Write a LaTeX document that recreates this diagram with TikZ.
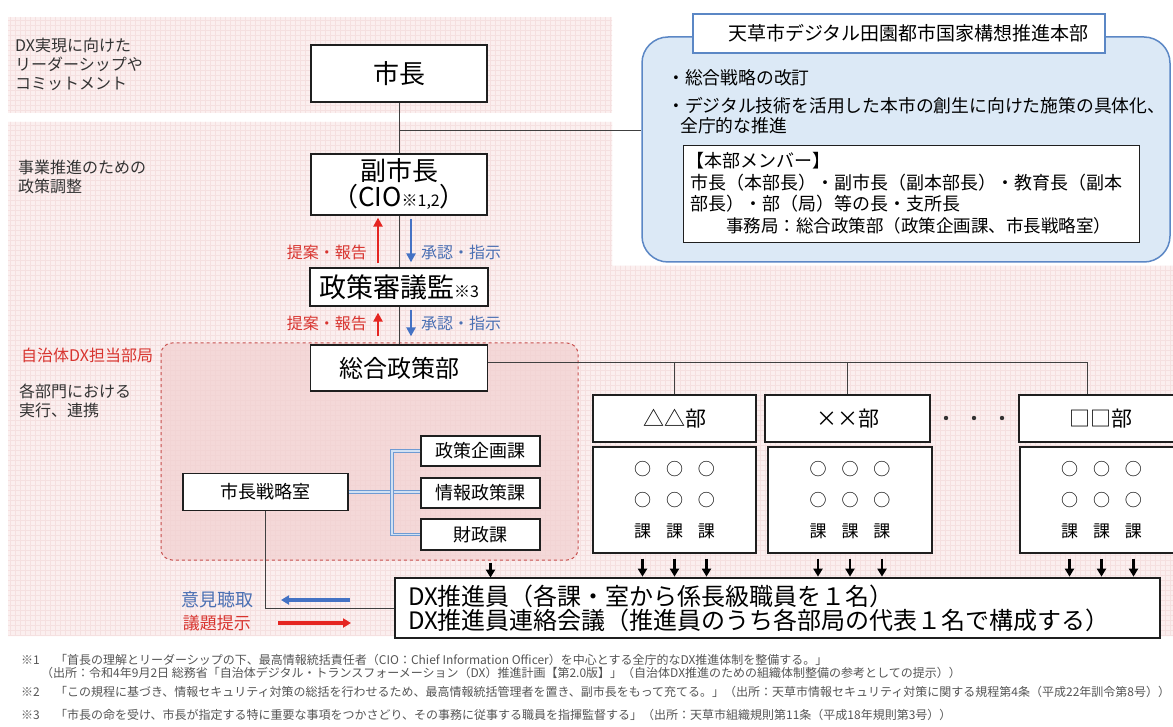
\documentclass[tikz,border=0pt]{standalone}
\usepackage{fontspec}
\setmainfont{Noto Sans CJK JP}
\usetikzlibrary{arrows.meta,calc}
\definecolor{bandpink}{HTML}{FBEFEF}
\definecolor{gridpink}{HTML}{F5E0E0}
\definecolor{dashfill}{HTML}{F2CFCF}
\definecolor{dashred}{HTML}{C8504E}
\definecolor{bluefill}{HTML}{DCE9F6}
\definecolor{blueline}{HTML}{5B87C5}
\definecolor{arrred}{HTML}{E52521}
\definecolor{arrblue}{HTML}{4472C4}
\definecolor{txtred}{HTML}{D8342F}
\definecolor{txtblue}{HTML}{4A6FB3}
\definecolor{connblue}{HTML}{6F9BD3}
\definecolor{connlight}{HTML}{D2E1F3}
\definecolor{fngray}{HTML}{555555}
\newcommand\myfs[2]{\fontsize{#1}{#2}\selectfont}
\newcommand\kagrid[1]{#1\hspace{15pt}#1\hspace{15pt}#1}
\begin{document}
\begin{tikzpicture}[x=1pt,y=-1pt,
  box/.style={draw=black!88, line width=1.3pt, fill=white, inner sep=0pt, align=center},
  txt/.style={inner sep=0pt, anchor=west, align=left},
  conn/.style={draw=black!75, line width=0.9pt},
  dbl/.style={draw=connblue, line width=0.8pt, double=connlight, double distance=1.6pt},
  redup/.style={draw=arrred, line width=2.6pt, -{Triangle[length=9pt,width=9pt]}},
  bluedown/.style={draw=arrblue, line width=2.6pt, -{Triangle[length=9pt,width=9pt]}},
  darr/.style={draw=black, line width=2.2pt, -{Triangle[length=8pt,width=9pt]}},
  fn/.style={txt, text=fngray, font=\myfs{12}{12}},
  lab/.style={txt, text=black!80, font=\myfs{16}{19}},
]
\useasboundingbox (0,0) rectangle (1173,727);
\fill[white] (0,0) rectangle (1173,727);
% background bands
\fill[bandpink] (8,17) rectangle (612,113);
\fill[bandpink] (8,122) -- (612,122) -- (612,266) -- (1173,266) -- (1173,636) -- (8,636) -- cycle;
\begin{scope}
\clip (8,17) rectangle (612,113) (8,122) -- (612,122) -- (612,266) -- (1173,266) -- (1173,636) -- (8,636) -- cycle;
\foreach \gx in {10,15,...,1170} \draw[gridpink, line width=0.3pt] (\gx,17) -- (\gx,636);
\foreach \gy in {20,25,...,635} \draw[gridpink, line width=0.3pt] (8,\gy) -- (1173,\gy);
\end{scope}
% dashed department area
\draw[dashred, dashed, line width=1pt, fill=dashfill, fill opacity=.7, rounded corners=11pt] (161,343) rectangle (578,560);

% left labels
\node[lab] (l1) at (15,64) {DX実現に向けた\\リーダーシップや\\コミットメント};
\node[lab] (l2) at (18,177) {事業推進のための\\政策調整};
\node[txt, text=txtred, font=\myfs{16}{16}] (l3) at (21,355) {自治体DX担当部局};
\node[lab] (l4) at (19,401) {各部門における\\実行、連携};

% headquarters box
\node[draw=blueline, line width=1.5pt, fill=bluefill, rounded corners=26pt, minimum width=528, minimum height=225, inner sep=0pt] (hq) at (906,149.5) {};
\node[draw=blueline, line width=2pt, fill=white, minimum width=412, minimum height=39, inner sep=0pt] (title) at (899,33.5) {};
\node[txt, font=\myfs{19}{19}] (titletxt) at (728,33.5) {天草市デジタル田園都市国家構想推進本部};
\node[txt, font=\myfs{17.8}{20}] (b1) at (667,78) {・総合戦略の改訂};
\node[txt, font=\myfs{17.8}{20}] (b2) at (667,106) {・デジタル技術を活用した本市の創生に向けた施策の具体化、};
\node[txt, font=\myfs{17.8}{20}] (b3) at (680,126) {全庁的な推進};
\node[box, line width=1pt, minimum width=456, minimum height=97] (member) at (911,194.5) {};
\node[txt, font=\myfs{18}{18}] (m1) at (686,161) {【本部メンバー】};
\node[txt, font=\myfs{18}{18}] (m2) at (690,183) {市長（本部長）・副市長（副本部長）・教育長（副本};
\node[txt, font=\myfs{18}{18}] (m3) at (690,204) {部長）・部（局）等の長・支所長};
\node[txt, font=\myfs{17.5}{18}] (m4) at (726,226) {事務局：総合政策部（政策企画課、市長戦略室）};

% main column
\node[box, minimum width=176, minimum height=57, font=\myfs{26}{26}] (shicho) at (399,73.5) {市長};
\node[box, minimum width=176, minimum height=61, font=\myfs{26}{26}] (fuku) at (399,184.5) {副市長\\（CIO{\myfs{16}{16}※1,2}）};
\node[box, minimum width=178, minimum height=38, font=\myfs{27}{27}] (seisaku) at (399,287) {政策審議監{\myfs{16}{16}※3}};
\node[box, minimum width=177, minimum height=46, font=\myfs{24}{24}] (sogo) at (399,368) {総合政策部};
\draw[conn] (shicho.south) -- (fuku.north);
\draw[conn] (fuku.south) -- (seisaku.north);
\draw[conn] (seisaku.south) -- (sogo.north);
\coordinate (j1) at (399,130);
\draw[conn] (j1) -- (hq.west |- j1);

% proposal / approval arrows
\draw[redup] ($(seisaku.north)+(-21,-4)$) -- ($(fuku.south)+(-21,2)$);
\draw[bluedown] ($(fuku.south)+(12,3)$) -- ($(seisaku.north)+(12,-5)$);
\draw[redup] ($(sogo.north)+(-21,-8)$) -- ($(seisaku.south)+(-21,6)$);
\draw[bluedown] ($(seisaku.south)+(12,3)$) -- ($(sogo.north)+(12,-8)$);
\node[txt, anchor=east, text=txtred, font=\myfs{16}{16}] (tk1) at (367,252) {提案・報告};
\node[txt, text=txtblue, font=\myfs{16}{16}] (sn1) at (421,252) {承認・指示};
\node[txt, anchor=east, text=txtred, font=\myfs{16}{16}] (tk2) at (367,323) {提案・報告};
\node[txt, text=txtblue, font=\myfs{16}{16}] (sn2) at (421,323) {承認・指示};

% departments
\node[box, minimum width=163, minimum height=47, font=\myfs{21}{21}] (bu1) at (674.5,418.5) {△△部};
\node[box, minimum width=165, minimum height=47, font=\myfs{21}{21}] (bu2) at (847.5,418.5) {××部};
\node[box, minimum width=164, minimum height=47, font=\myfs{21}{21}] (bu3) at (1101,418.5) {□□部};
\coordinate (d3) at (1087,362);
\draw[conn] (sogo.east |- d3) -- (d3) -- (d3 |- bu3.north);
\draw[conn] (bu1.north |- d3) -- (bu1.north);
\draw[conn] (bu2.north |- d3) -- (bu2.north);
\fill[black!80] (946,418) circle[radius=2.2pt] (974,418) circle[radius=2.2pt] (1002,418) circle[radius=2.2pt];
\node[box, minimum width=163, minimum height=106, font=\myfs{17}{31}] (ka1) at (674.5,500) {\kagrid{○}\\\kagrid{○}\\\kagrid{課}};
\node[box, minimum width=164, minimum height=106, font=\myfs{17}{31}] (ka2) at (850,500) {\kagrid{○}\\\kagrid{○}\\\kagrid{課}};
\node[box, minimum width=163, minimum height=106, font=\myfs{17}{31}] (ka3) at (1101.5,500) {\kagrid{○}\\\kagrid{○}\\\kagrid{課}};

% policy department sections
\node[box, line width=1.2pt, minimum width=165, minimum height=37, font=\myfs{18}{18}] (ssr) at (265.5,492) {市長戦略室};
\node[box, line width=1.2pt, minimum width=119, minimum height=30, font=\myfs{18}{18}] (kikaku) at (480.5,451) {政策企画課};
\node[box, line width=1.2pt, minimum width=119, minimum height=30, font=\myfs{18}{18}] (johou) at (480.5,493) {情報政策課};
\node[box, line width=1.2pt, minimum width=119, minimum height=31, font=\myfs{18}{18}] (zaisei) at (480.5,534.5) {財政課};
\coordinate (bar) at (392,493);
\draw[dbl] (ssr.east) -- (ssr.east -| johou.west);
\draw[dbl] (kikaku.west) -| (bar) |- (zaisei.west);

% DX promoters
\node[box, line width=1.4pt, minimum width=765, minimum height=60, text width=739, inner xsep=13pt, align=left, font=\myfs{24}{24}] (dx) at (777.5,608) {DX推進員（各課・室から係長級職員を１名）\\DX推進員連絡会議（推進員のうち各部局の代表１名で構成する）};
\foreach \k in {ka1,ka2,ka3} \foreach \o in {-32,0,32} \draw[darr] ($(\k.south)+(\o,5)$) -- ($(\k.south)+(\o,23)$);
\draw[darr] ($(zaisei.south)+(10,12)$) -- ($(zaisei.south)+(10,27)$);
\draw[conn] (ssr.south) |- (dx.west);
\node[txt, anchor=east, text=txtblue, font=\myfs{18}{18}] (iken) at (254,600) {意見聴取};
\node[txt, anchor=east, text=txtred, font=\myfs{17}{17}] (gidai) at (251,623) {議題提示};
\draw[draw=arrblue, line width=3.2pt, -{Triangle[length=8pt,width=9pt]}] ($(iken.east)+(96,0)$) -- ($(iken.east)+(27,0)$);
\draw[draw=arrred, line width=3.2pt, -{Triangle[length=8pt,width=9pt]}] ($(gidai.east)+(27,0)$) -- ($(gidai.east)+(100,0)$);

% footnotes
\node[fn] (f1m) at (21,660) {※1};
\node[fn] (f1a) at (55,660) {「首長の理解とリーダーシップの下、最高情報統括責任者（CIO：Chief Information Officer）を中心とする全庁的なDX推進体制を整備する。」};
\node[fn] (f1b) at (41,673) {（出所：令和4年9月2日 総務省「自治体デジタル・トランスフォーメーション（DX）推進計画【第2.0版】」（自治体DX推進のための組織体制整備の参考としての提示））};
\node[fn] (f2m) at (21,692) {※2};
\node[fn] (f2a) at (55,692) {「この規程に基づき、情報セキュリティ対策の総括を行わせるため、最高情報統括管理者を置き、副市長をもって充てる。」（出所：天草市情報セキュリティ対策に関する規程第4条（平成22年訓令第8号））};
\node[fn] (f3m) at (21,715) {※3};
\node[fn] (f3a) at (55,715) {「市長の命を受け、市長が指定する特に重要な事項をつかさどり、その事務に従事する職員を指揮監督する」（出所：天草市組織規則第11条（平成18年規則第3号））};
\end{tikzpicture}
\end{document}
